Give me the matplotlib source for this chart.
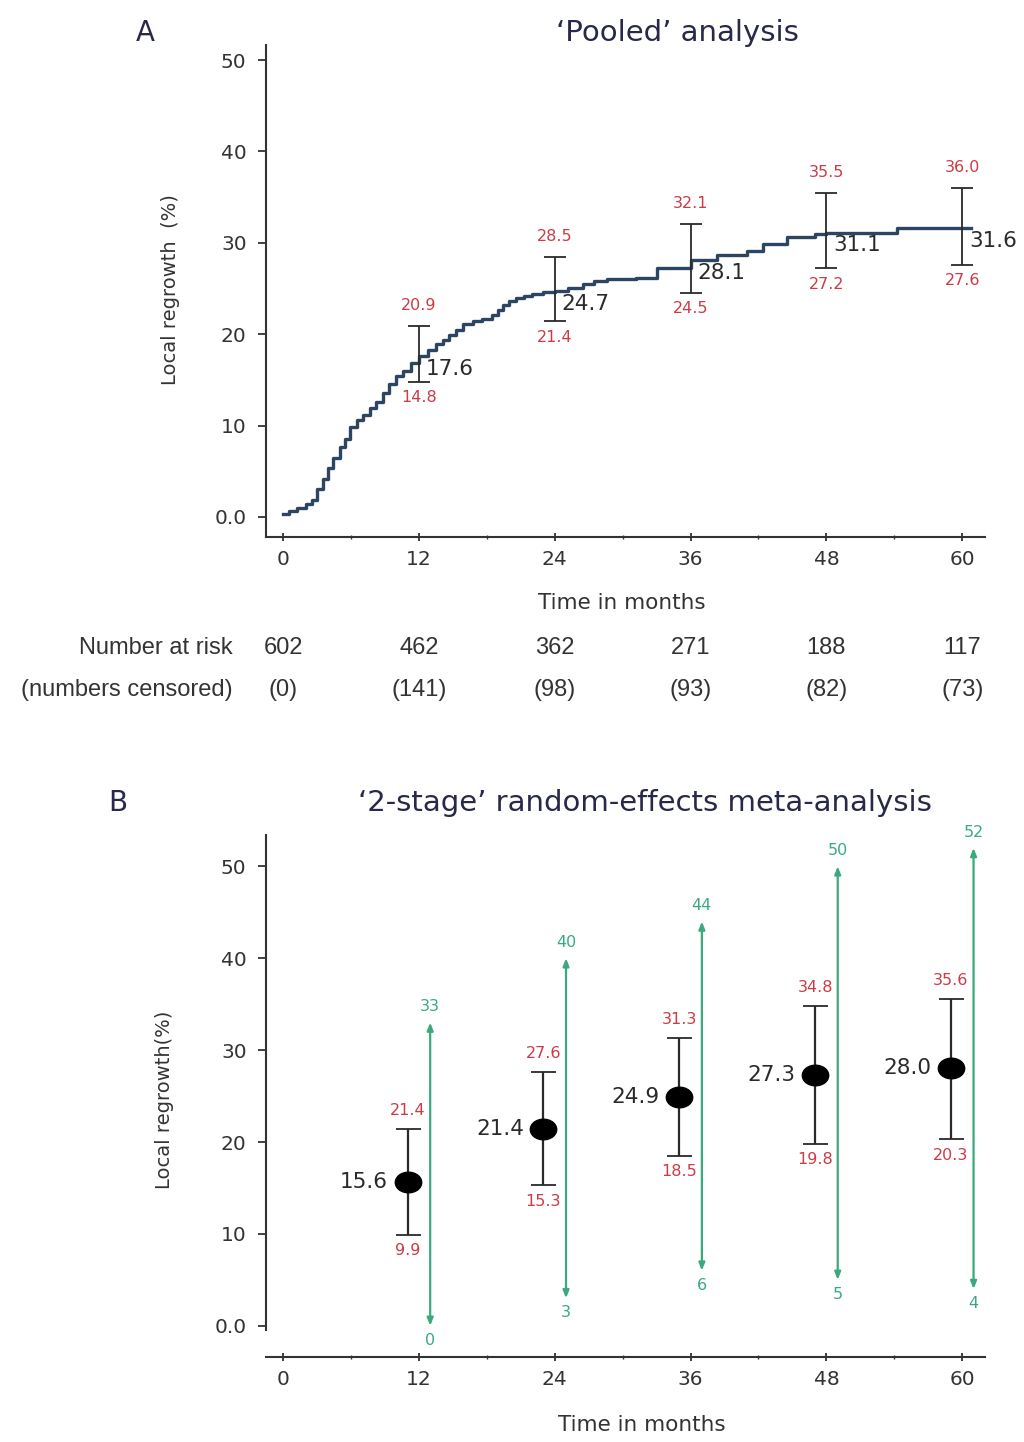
import numpy as np
import matplotlib
matplotlib.use('Agg')
import matplotlib.pyplot as plt
from matplotlib.ticker import FixedLocator, FixedFormatter
from matplotlib.path import Path

plt.rcParams['font.family'] = ['DejaVu Sans']

# ---- data: panel A ('pooled' cumulative incidence curve) ----
km_time = [0, 0.5, 1.2, 2.0, 2.6, 3.0, 3.5, 4.0, 4.4, 5.0, 5.5, 5.9, 6.5, 7.1, 7.7,
           8.2, 8.8, 9.4, 10.0, 10.6, 11.3, 12.0, 12.8, 13.5, 14.1, 14.7, 15.3, 15.9,
           16.8, 17.6, 18.5, 19.0, 19.4, 20.0, 20.6, 21.3, 22.0, 23.0, 24.0, 25.2,
           26.5, 27.5, 28.6, 31.2, 33.0, 36.0, 38.3, 41.0, 42.4, 44.5, 47.0, 48.0,
           54.2, 60.8]
km_value = [0.3, 0.6, 1.0, 1.4, 1.8, 3.0, 4.2, 5.4, 6.4, 7.6, 8.5, 9.8, 10.6, 11.2, 11.9,
            12.6, 13.6, 14.6, 15.4, 16.0, 16.8, 17.6, 18.3, 18.9, 19.4, 19.9, 20.5, 21.1,
            21.4, 21.7, 22.1, 22.6, 23.2, 23.6, 24.0, 24.2, 24.4, 24.6, 24.7, 25.1,
            25.5, 25.8, 26.0, 26.2, 27.2, 28.1, 28.7, 29.1, 29.9, 30.6, 31.0, 31.1,
            31.6, 31.6]

months = [12, 24, 36, 48, 60]
pooled_est = [17.6, 24.7, 28.1, 31.1, 31.6]
pooled_lo = [14.8, 21.4, 24.5, 27.2, 27.6]
pooled_hi = [20.9, 28.5, 32.1, 35.5, 36.0]

risk_time = [0, 12, 24, 36, 48, 60]
at_risk = [602, 462, 362, 271, 188, 117]
censored = [0, 141, 98, 93, 82, 73]

# ---- data: panel B (2-stage random-effects meta-analysis) ----
meta_est = [15.6, 21.4, 24.9, 27.3, 28.0]
meta_lo = [9.9, 15.3, 18.5, 19.8, 20.3]
meta_hi = [21.4, 27.6, 31.3, 34.8, 35.6]
pred_lo = [0, 3, 6, 5, 4]
pred_hi = [33, 40, 44, 50, 52]

curve_col = '#2b4563'
red = '#cc3b47'
green = '#3aaa7e'
dark = '#2a2a2a'
title_col = '#27284a'
axis_col = '#333333'
table_font = ['Liberation Sans', 'DejaVu Sans']

fig = plt.figure(figsize=(10.24, 14.42), dpi=100)


def style_axes(ax):
    for s in ['top', 'right']:
        ax.spines[s].set_visible(False)
    for s in ['left', 'bottom']:
        ax.spines[s].set_color(axis_col)
        ax.spines[s].set_linewidth(1.5)
    ax.set_xlim(-1.5, 62)
    ax.xaxis.set_major_locator(FixedLocator([0, 12, 24, 36, 48, 60]))
    ax.xaxis.set_minor_locator(FixedLocator([6, 18, 30, 42, 54]))
    ax.yaxis.set_major_locator(FixedLocator([0, 10, 20, 30, 40, 50]))
    ax.yaxis.set_major_formatter(FixedFormatter(['0.0', '10', '20', '30', '40', '50']))
    ax.tick_params(axis='both', which='major', labelsize=14.5, colors=axis_col,
                   width=1.3, length=6)
    ax.tick_params(axis='x', which='minor', width=1.0, length=3, colors=axis_col)
    ax.tick_params(axis='y', pad=8)
    ax.tick_params(axis='x', which='both', direction='inout', pad=6)


# ---------------- panel A ----------------
axA = fig.add_axes([0.2598, 0.6276, 0.702, 0.3415])
style_axes(axA)
axA.set_ylim(-2.2, 51.7)

axA.plot(km_time, km_value, drawstyle='steps-post', color=curve_col, lw=2.4)

axA.errorbar(months, pooled_est,
             yerr=[np.array(pooled_est) - np.array(pooled_lo),
                   np.array(pooled_hi) - np.array(pooled_est)],
             fmt='none', ecolor=dark, elinewidth=1.3, capsize=8, capthick=1.3)

for m, e, lo, hi in zip(months, pooled_est, pooled_lo, pooled_hi):
    axA.annotate(f'{hi:.1f}', (m, hi), xytext=(0, 9), textcoords='offset points',
                 ha='center', va='bottom', fontsize=11.5, color=red)
    axA.annotate(f'{lo:.1f}', (m, lo), xytext=(0, -6), textcoords='offset points',
                 ha='center', va='top', fontsize=11.5, color=red)
    axA.annotate(f'{e:.1f}', (m, e), xytext=(5, -9), textcoords='offset points',
                 ha='left', va='center', fontsize=15.5, color=dark)

fig.text(145 / 1024, 1 - 33 / 1442, 'A', fontsize=20, color=title_col, ha='center', va='center')
fig.text(677 / 1024, 1 - 33 / 1442, '\u2018Pooled\u2019 analysis', fontsize=21,
         color=title_col, ha='center', va='center')
fig.text(170 / 1024, 1 - 290 / 1442, 'Local regrowth  (%)', rotation=90, fontsize=14,
         color=axis_col, ha='center', va='center')
fig.text(622 / 1024, 1 - 603 / 1442, 'Time in months', fontsize=15.5, color=axis_col,
         ha='center', va='center')

# number at risk table
fig.text(233 / 1024, 1 - 648 / 1442, 'Number at risk', fontsize=17, color=axis_col,
         ha='right', va='center', family=table_font)
fig.text(233 / 1024, 1 - 690 / 1442, '(numbers censored)', fontsize=17, color=axis_col,
         ha='right', va='center', family=table_font)
for t, n, c in zip(risk_time, at_risk, censored):
    axA.annotate(str(n), (t, 1 - 648 / 1442), xycoords=('data', 'figure fraction'),
                 ha='center', va='center', fontsize=17, color=axis_col, family=table_font)
    axA.annotate(f'({c})', (t, 1 - 690 / 1442), xycoords=('data', 'figure fraction'),
                 ha='center', va='center', fontsize=17, color=axis_col, family=table_font)

# ---------------- panel B ----------------
axB = fig.add_axes([0.2598, 0.0589, 0.702, 0.362])
style_axes(axB)
axB.set_ylim(-3.4, 53.4)
axB.spines['left'].set_bounds(-0.5, 53.4)

est_x = [m - 1 for m in months]
pred_x = [m + 1 for m in months]

axB.errorbar(est_x, meta_est,
             yerr=[np.array(meta_est) - np.array(meta_lo),
                   np.array(meta_hi) - np.array(meta_est)],
             fmt='none', ecolor=dark, elinewidth=1.6, capsize=9, capthick=1.3, zorder=2)

# slightly flattened dot marker
circ = Path.unit_circle()
oval = Path(circ.vertices * np.array([1.0, 0.78]), circ.codes)
axB.plot(est_x, meta_est, linestyle='none', marker=oval, markersize=19,
         color='black', zorder=3)

for x, lo, hi in zip(pred_x, pred_lo, pred_hi):
    axB.annotate('', xy=(x, hi), xytext=(x, lo),
                 arrowprops=dict(arrowstyle='<|-|>,head_length=0.45,head_width=0.18',
                                 color=green, lw=1.6, shrinkA=0, shrinkB=0))
    axB.annotate(f'{hi}', (x, hi), xytext=(0, 6), textcoords='offset points',
                 ha='center', va='bottom', fontsize=11.5, color=green)
    axB.annotate(f'{lo}', (x, lo), xytext=(0, -5), textcoords='offset points',
                 ha='center', va='top', fontsize=11.5, color=green)

for x, e, lo, hi in zip(est_x, meta_est, meta_lo, meta_hi):
    axB.annotate(f'{hi:.1f}', (x, hi), xytext=(0, 8), textcoords='offset points',
                 ha='center', va='bottom', fontsize=11.5, color=red)
    axB.annotate(f'{lo:.1f}', (x, lo), xytext=(0, -6), textcoords='offset points',
                 ha='center', va='top', fontsize=11.5, color=red)
    axB.annotate(f'{e:.1f}', (x, e), xytext=(-14, 0), textcoords='offset points',
                 ha='right', va='center', fontsize=15.5, color=dark)

fig.text(118 / 1024, 1 - 803 / 1442, 'B', fontsize=20, color=title_col, ha='center', va='center')
fig.text(645 / 1024, 1 - 803 / 1442, '\u20182-stage\u2019 random-effects meta-analysis',
         fontsize=21, color=title_col, ha='center', va='center')
fig.text(165 / 1024, 1 - 1100 / 1442, 'Local regrowth(%)', rotation=90, fontsize=14,
         color=axis_col, ha='center', va='center')
fig.text(642 / 1024, 1 - 1425 / 1442, 'Time in months', fontsize=15.5, color=axis_col,
         ha='center', va='center')

fig.savefig('out.png', dpi=100, facecolor='white')
